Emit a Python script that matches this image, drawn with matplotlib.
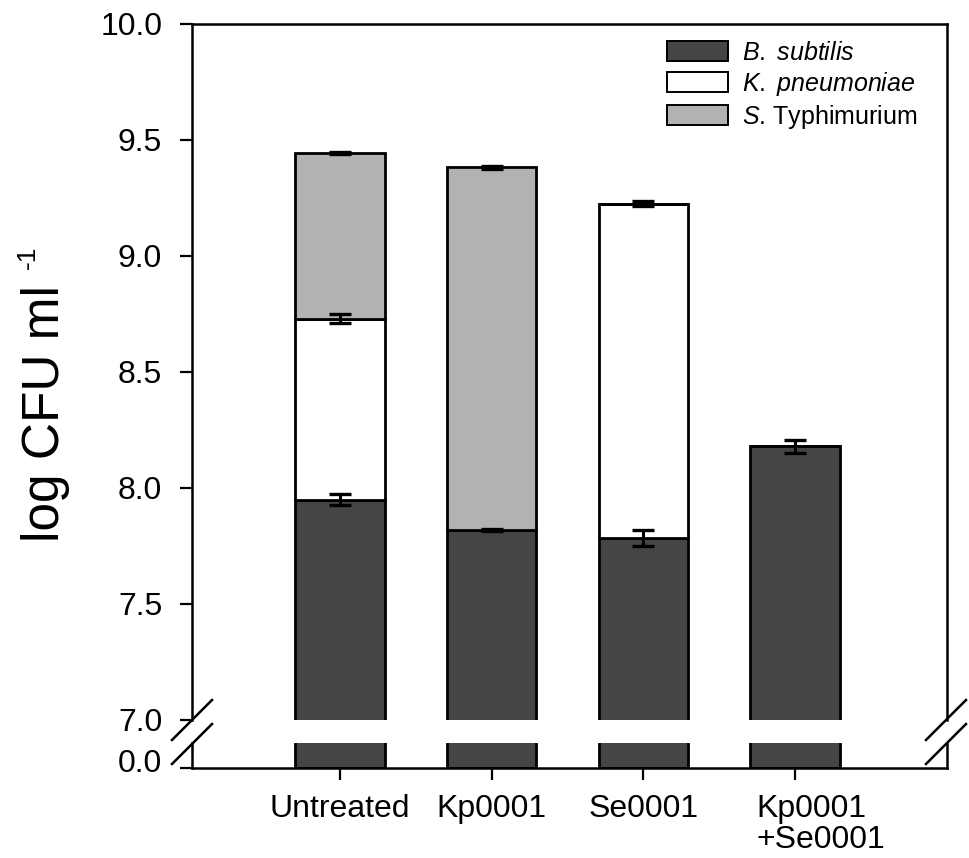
import numpy as np
import matplotlib
matplotlib.use("Agg")
from matplotlib import pyplot as plt
from matplotlib.patches import Patch
from matplotlib.lines import Line2D
from matplotlib.transforms import ScaledTranslation

plt.rcParams["font.family"] = ["Liberation Sans", "DejaVu Sans"]
plt.rcParams["mathtext.fontset"] = "custom"
plt.rcParams["mathtext.rm"] = "Liberation Sans"
plt.rcParams["mathtext.it"] = "Liberation Sans:italic"

# values (top of each stacked segment, log CFU/ml)
groups = ["Untreated", "Kp0001", "Se0001", "Kp0001\n+Se0001"]
bsub_top = [7.95, 7.82, 7.785, 8.18]
bsub_err = [0.022, 0.005, 0.033, 0.027]
kpn_top = [8.73, np.nan, 9.225, np.nan]
kpn_err = [0.018, 0.0, 0.01, 0.0]
sty_top = [9.445, 9.383, np.nan, np.nan]
sty_err = [0.005, 0.006, 0.0, 0.0]
legend_labels = [r"$\mathit{B.\ subtilis}$", r"$\mathit{K.\ pneumoniae}$",
                 r"$\mathit{S}$. Typhimurium"]

dark = "#454545"
light = "#b2b2b2"
W, H = 970, 858


def fx(px):
    return px / W


def fy(py):
    return 1 - py / H


fig = plt.figure(figsize=(9.7, 8.58), dpi=100)
ax_top = fig.add_axes([fx(192), fy(720), fx(947) - fx(192), fy(24) - fy(720)])
ax_bot = fig.add_axes([fx(192), fy(768), fx(947) - fx(192), fy(743) - fy(768)])

x = np.arange(len(groups))
bsub = np.array(bsub_top)
kpn = np.array(kpn_top)
sty = np.array(sty_top)
kpn_bottom = bsub
sty_bottom = np.where(np.isnan(kpn), bsub, kpn)

bw = 0.59
lw = 2.0
for ax in (ax_top, ax_bot):
    ax.bar(x, bsub, bw, color=dark, edgecolor="k", linewidth=lw, zorder=2)
ax_top.bar(x, np.nan_to_num(kpn - kpn_bottom), bw, bottom=kpn_bottom,
           color="white", edgecolor="k", linewidth=lw, zorder=2)
ax_top.bar(x, np.nan_to_num(sty - sty_bottom), bw, bottom=sty_bottom,
           color=light, edgecolor="k", linewidth=lw, zorder=2)

for tops, errs in ((bsub, bsub_err), (kpn, kpn_err), (sty, sty_err)):
    m = ~np.isnan(tops)
    ax_top.errorbar(x[m], tops[m], yerr=np.array(errs)[m], fmt="none",
                    ecolor="k", elinewidth=2.2, capsize=8, capthick=2.4, zorder=3)

xlim = (-0.975, 4.0)
ax_top.set_xlim(*xlim)
ax_bot.set_xlim(*xlim)
ax_top.set_ylim(7.0, 10.0)
ax_bot.set_ylim(0.0, 0.3)
ax_top.set_yticks([7.0, 7.5, 8.0, 8.5, 9.0, 9.5, 10.0])
ax_top.set_yticklabels(["7.0", "7.5", "8.0", "8.5", "9.0", "9.5", "10.0"])
ax_bot.set_yticks([0.0])
ax_bot.set_yticklabels(["0.0"])
ax_top.set_xticks([])
ax_bot.set_xticks(x)
ax_bot.set_xticklabels(groups, fontsize=23, linespacing=1.05)

ax_top.spines["bottom"].set_visible(False)
ax_bot.spines["top"].set_visible(False)
for ax in (ax_top, ax_bot):
    for s in ax.spines.values():
        s.set_linewidth(1.8)
    ax.tick_params(axis="y", direction="out", length=8.5, width=1.6,
                   labelsize=23, pad=13)
ax_bot.tick_params(axis="x", direction="out", length=8.5, width=1.6,
                   labelsize=23, pad=10)

# nudge the "0.0" label up and the two-line label right, as in the original
zero_lab = ax_bot.yaxis.get_major_ticks()[0].label1
zero_lab.set_transform(zero_lab.get_transform() + ScaledTranslation(0, 0.08, fig.dpi_scale_trans))
last_lab = ax_bot.xaxis.get_major_ticks()[3].label1
last_lab.set_transform(last_lab.get_transform() + ScaledTranslation(0.26, 0, fig.dpi_scale_trans))
last_lab.set_multialignment("left")

# break marks
for xc in (192, 946):
    for yc in (720, 744):
        fig.add_artist(Line2D([fx(xc - 20), fx(xc + 20)], [fy(yc + 20), fy(yc - 20)],
                              color="k", linewidth=1.8))

handles = [Patch(facecolor=c, edgecolor="k", linewidth=1.4) for c in (dark, "white", light)]
ax_top.legend(handles, legend_labels, loc="upper left",
              bbox_to_anchor=(fx(667), fy(41)), bbox_transform=fig.transFigure,
              frameon=False, fontsize=18, handlelength=2.44, handleheight=0.84,
              handletextpad=0.56, labelspacing=0.2, borderpad=0, borderaxespad=0)

fig.text(fx(46), fy(413), "log CFU ml", rotation=90, fontsize=37,
         ha="center", va="center")
fig.text(fx(28), fy(257), "-1", rotation=90, fontsize=19,
         ha="center", va="center")

fig.savefig("out.png", dpi=100)
